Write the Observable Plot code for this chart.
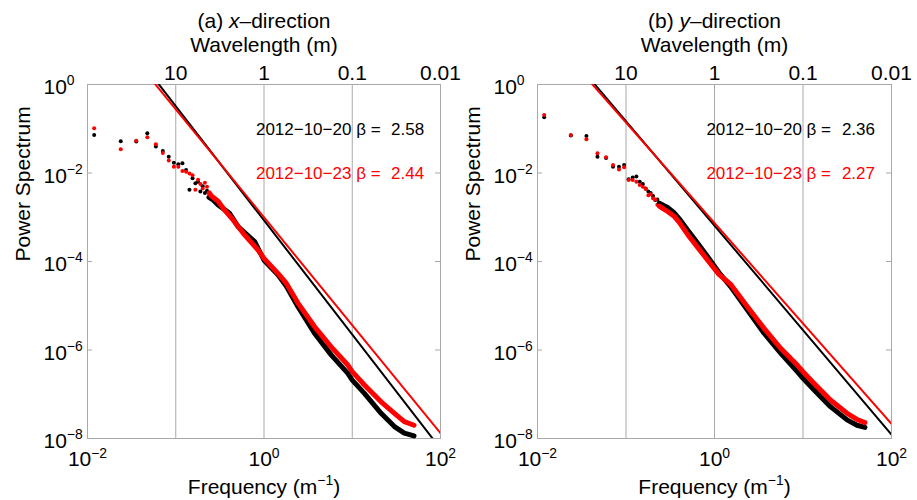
<!DOCTYPE html>
<html><head><meta charset="utf-8">
<script src="https://cdn.jsdelivr.net/npm/d3@7"></script>
<script src="https://cdn.jsdelivr.net/npm/@observablehq/plot@0.6"></script>
<style>
body{margin:0;background:#fff}
#wrap{display:flex;width:917px;height:500px}
#wrap svg{overflow:visible}
</style>
</head><body><div id="wrap"></div>
<script>
// ---------- data (powers given as log10) ----------
const freqSparse = [0.0119,0.0238,0.0357,0.0476,0.0595,0.0714,0.0833,0.0952,0.107,0.119,
                    0.131,0.143,0.155,0.167,0.179,0.190,0.202,0.214,0.226,0.238];
// (a) x-direction, low-frequency points
const xBlackLogP = [-1.14,-1.28,-1.29,-1.10,-1.40,-1.50,-1.63,-1.77,-1.80,-1.78,
                    -1.93,-2.38,-2.12,-2.23,-2.20,-2.42,-2.30,-2.45,-2.40,-2.55];
const xRedLogP   = [-0.99,-1.465,-1.27,-1.19,-1.35,-1.55,-1.72,-1.86,-1.86,-1.955,
                    -1.97,-2.01,-2.05,-2.38,-2.15,-2.25,-2.35,-2.22,-2.31,-2.45];
// (a) dense part: [log10 f, log10 P]
const xBlackBand = [[-0.623,-2.55],[-0.577,-2.61],[-0.52,-2.72],[-0.39,-2.91],[-0.294,-3.21],
  [-0.106,-3.55],[0.0,-3.97],[0.158,-4.30],[0.25,-4.55],[0.385,-5.02],[0.572,-5.62],[0.761,-6.11],
  [0.95,-6.53],[1.0,-6.68],[1.138,-6.98],[1.327,-7.43],[1.478,-7.73],[1.59,-7.88],[1.70,-7.94]];
const xRedBand = [[-0.62,-2.45],[-0.596,-2.52],[-0.52,-2.64],[-0.446,-2.84],[-0.35,-3.06],
  [-0.22,-3.40],[-0.068,-3.74],[0.0,-3.93],[0.158,-4.27],[0.252,-4.49],[0.385,-4.94],[0.572,-5.47],
  [0.761,-5.93],[0.95,-6.34],[1.0,-6.49],[1.138,-6.79],[1.327,-7.17],[1.478,-7.43],[1.59,-7.62],[1.70,-7.70]];
// (b) y-direction, low-frequency points
const yBlackLogP = [-0.74,-1.15,-1.164,-1.63,-1.66,-1.86,-1.86,-1.82,-2.14,-2.10,
                    -2.08,-2.20,-2.25,-2.35,-2.42,-2.45,-2.52,-2.61,-2.60,-2.68];
const yRedLogP   = [-0.69,-1.14,-1.24,-1.555,-1.645,-1.82,-1.92,-1.87,-2.16,-2.16,
                    -2.20,-2.27,-2.31,-2.36,-2.50,-2.48,-2.57,-2.60,-2.72,-2.75];
const yBlackBand = [[-0.623,-2.68],[-0.586,-2.72],[-0.53,-2.78],[-0.46,-2.89],[-0.40,-3.03],
  [-0.30,-3.30],[-0.19,-3.59],[-0.077,-3.89],[0.05,-4.25],[0.18,-4.56],[0.372,-5.10],[0.56,-5.62],
  [0.747,-6.07],[0.935,-6.49],[1.0,-6.64],[1.123,-6.90],[1.31,-7.28],[1.498,-7.58],[1.61,-7.70],[1.70,-7.75]];
const yRedBand = [[-0.623,-2.75],[-0.586,-2.80],[-0.53,-2.87],[-0.46,-2.97],[-0.40,-3.11],
  [-0.30,-3.40],[-0.19,-3.68],[-0.077,-3.97],[0.05,-4.29],[0.184,-4.52],[0.372,-5.02],[0.56,-5.51],
  [0.747,-5.96],[0.935,-6.34],[1.0,-6.49],[1.123,-6.75],[1.31,-7.13],[1.498,-7.43],[1.61,-7.57],[1.70,-7.64]];
// fitted power laws, log10 P at f = 0.01 and f = 100
const fitFreq = [0.01, 100];
const xBlackFit = [2.09,-8.23], xRedFit = [1.88,-7.88];
const yBlackFit = [1.53,-7.91], yRedFit = [1.41,-7.67];
// labels
const dates = ["2012\u221210\u221220","2012\u221210\u221223"];
const xBetas = ["2.58","2.44"], yBetas = ["2.36","2.27"];
const titles = ["(a) *{x}\u2013direction","(b) *{y}\u2013direction"];
const xTicks = [0.01, 1, 100];
const yTicks = [1, 1e-2, 1e-4, 1e-6, 1e-8];
const gridFreq = [0.1, 1, 10];
const topTicks = [0.1, 1, 10, 100];
const wavelengthLabels = ["10","1","0.1","0.01"];

// ---------- helpers ----------
const pow10 = d => { const e = Math.round(Math.log10(d)); return "10^{" + (e < 0 ? "\u2212" + (-e) : e) + "}"; };
const toRows = (logs) => freqSparse.map((f,i) => ({f, p: 10 ** logs[i]}));
const bandRows = (pairs) => pairs.map(([lf,lp]) => ({f: 10 ** lf, p: 10 ** lp}));
const fitRows = (logs) => fitFreq.map((f,i) => ({f, p: 10 ** logs[i]}));
const GRAY = "#a9a9a9";

function panel({title, bDots, rDots, bBand, rBand, bFit, rFit, betas, width, marginLeft, marginRight}) {
  const inner = width - marginLeft - marginRight;
  return Plot.plot({
    width, height: 500, marginLeft, marginRight, marginTop: 84, marginBottom: 62,
    x: {type: "log", domain: [0.01, 100]},
    y: {type: "log", domain: [1e-8, 1]},
    style: {fontFamily: "'Liberation Sans', Arial, sans-serif", fontSize: "21px", background: "transparent", color: "#000", overflow: "visible"},
    marks: [
      Plot.ruleX(gridFreq, {stroke: GRAY, strokeWidth: 1}),
      Plot.frame({stroke: GRAY}),
      Plot.tickY(yTicks, {y: d => d, stroke: GRAY, insetRight: inner - 5}),
      Plot.tickY(yTicks, {y: d => d, stroke: GRAY, insetLeft: inner - 5}),
      Plot.axisX({anchor: "bottom", ticks: xTicks, tickFormat: pow10, tickSize: 0, tickPadding: 13, label: null}),
      Plot.axisX({anchor: "top", ticks: topTicks, tickFormat: d => wavelengthLabels[topTicks.indexOf(d)], tickSize: 0, tickPadding: 5, label: null}),
      Plot.axisY({anchor: "left", ticks: yTicks, tickFormat: pow10, tickSize: 0, tickPadding: 44, textAnchor: "start", dy: 3, label: null}),
      Plot.dot(toRows(bDots), {x: "f", y: "p", r: 2, fill: "#000", stroke: null}),
      Plot.dot(toRows(rDots), {x: "f", y: "p", r: 2, fill: "#ff0000", stroke: null}),
      Plot.line(bandRows(bBand), {x: "f", y: "p", stroke: "#000", strokeWidth: 5, strokeLinecap: "round"}),
      Plot.line(bandRows(rBand), {x: "f", y: "p", stroke: "#ff0000", strokeWidth: 5, strokeLinecap: "round"}),
      Plot.line(fitRows(bFit), {x: "f", y: "p", stroke: "#000", strokeWidth: 2, clip: true}),
      Plot.line(fitRows(rFit), {x: "f", y: "p", stroke: "#ff0000", strokeWidth: 2, clip: true}),
      Plot.text([dates[0] + " \u03b2 ="], {x: 0.81, y: 10 ** -1.02, textAnchor: "start", fill: "#000", fontSize: 17}),
      Plot.text([betas[0]], {x: 27.5, y: 10 ** -1.02, textAnchor: "start", fill: "#000", fontSize: 17}),
      Plot.text([dates[1] + " \u03b2 ="], {x: 0.81, y: 10 ** -2.02, textAnchor: "start", fill: "#ff0000", fontSize: 17}),
      Plot.text([betas[1]], {x: 27.5, y: 10 ** -2.02, textAnchor: "start", fill: "#ff0000", fontSize: 17}),
      Plot.text([title], {frameAnchor: "top", lineAnchor: "middle", dy: -63, fontSize: 21}),
      Plot.text(["Wavelength (m)"], {frameAnchor: "top", lineAnchor: "middle", dy: -39, fontSize: 21}),
      Plot.text(["Frequency (m^{\u22121})"], {frameAnchor: "bottom", lineAnchor: "middle", dy: 49, fontSize: 21}),
      Plot.text(["Power Spectrum"], {frameAnchor: "left", lineAnchor: "middle", dx: -64, rotate: -90, fontSize: 21})
    ]
  });
}

// rich text: ^{...} superscript, *{...} italic
function richify(svg) {
  const NS = "http://www.w3.org/2000/svg";
  svg.querySelectorAll("text").forEach(t => {
    const s = t.textContent;
    if (!/[\^*]\{/.test(s)) return;
    const fs = parseFloat(getComputedStyle(t).fontSize) || 21;
    const parts = s.split(/(\^\{[^}]*\}|\*\{[^}]*\})/).filter(p => p !== "");
    t.textContent = "";
    let restore = 0;
    parts.forEach(p => {
      const ts = document.createElementNS(NS, "tspan");
      if (p.startsWith("^{")) {
        ts.textContent = p.slice(2, -1);
        ts.setAttribute("font-size", (fs * 0.66).toFixed(1));
        ts.setAttribute("dy", (-fs * 0.42 + restore).toFixed(1));
        restore = fs * 0.42;
      } else if (p.startsWith("*{")) {
        ts.textContent = p.slice(2, -1);
        ts.setAttribute("font-style", "italic");
        if (restore) { ts.setAttribute("dy", restore.toFixed(1)); restore = 0; }
      } else {
        ts.textContent = p;
        if (restore) { ts.setAttribute("dy", restore.toFixed(1)); restore = 0; }
      }
      t.appendChild(ts);
    });
  });
}

const wrap = document.getElementById("wrap");
const a = panel({title: titles[0], bDots: xBlackLogP, rDots: xRedLogP, bBand: xBlackBand, rBand: xRedBand,
  bFit: xBlackFit, rFit: xRedFit, betas: xBetas, width: 458, marginLeft: 87, marginRight: 18});
const b = panel({title: titles[1], bDots: yBlackLogP, rDots: yRedLogP, bBand: yBlackBand, rBand: yRedBand,
  bFit: yBlackFit, rFit: yRedFit, betas: yBetas, width: 459, marginLeft: 79, marginRight: 26});
wrap.appendChild(a); wrap.appendChild(b);
richify(a); richify(b);
</script></body></html>
